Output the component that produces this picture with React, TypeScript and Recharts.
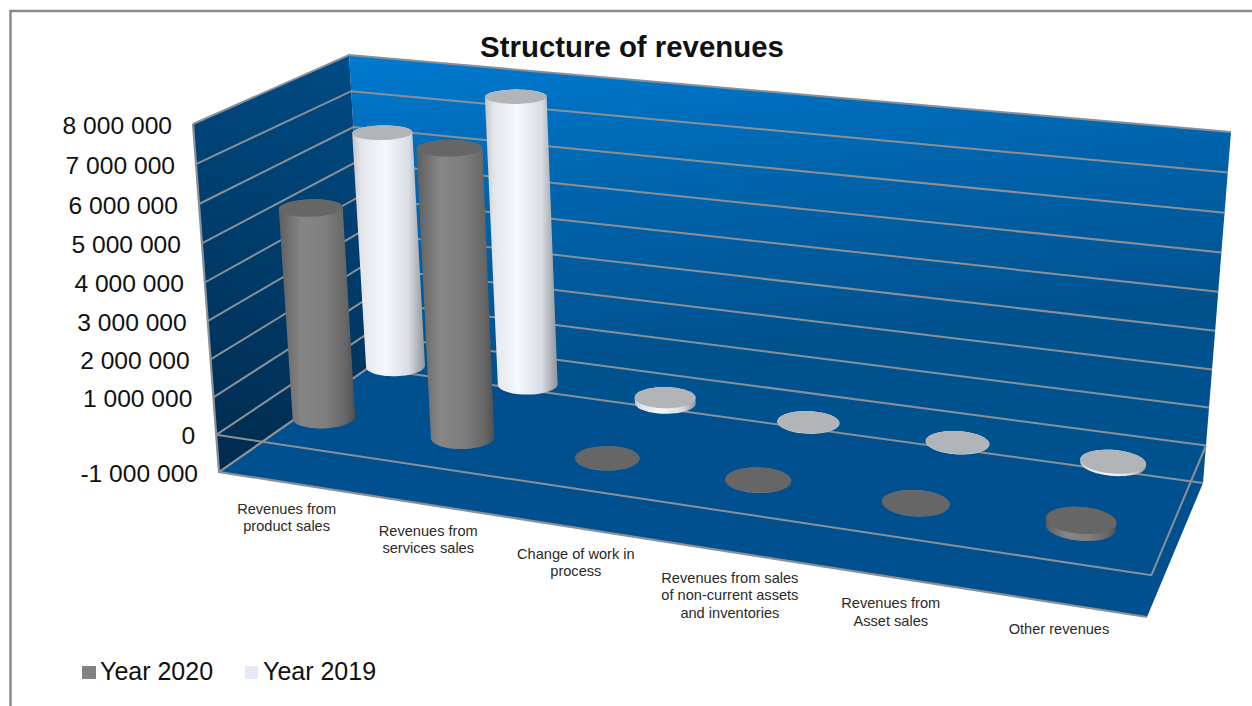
import React from "react";
import { ComposedChart, Bar, XAxis, YAxis } from "recharts";

const categories = [
  "Revenues from\nproduct sales",
  "Revenues from\nservices sales",
  "Change of work in\nprocess",
  "Revenues from sales\nof non-current assets\nand inventories",
  "Revenues from\nAsset sales",
  "Other revenues",
];
const year2020 = [5550000, 7450000, 10000, 15000, 10000, 170000];
const year2019 = [6500000, 7800000, 150000, 10000, 10000, 60000];
const valueTicks = [-1000000, 0, 1000000, 2000000, 3000000, 4000000, 5000000, 6000000, 7000000, 8000000];
const seriesNames = ["Year 2020", "Year 2019"];
const title = "Structure of revenues";

const data = categories.map((name, i) => ({ name, y2020: year2020[i], y2019: year2019[i] }));

const W = 1252, H = 706;
const PL = 219, PR = 1147, PT = 125, PB = 472;
const FONT = "'Liberation Sans', Arial, sans-serif";
const MIN = -1000000, MAX = 8000000;

type P = [number, number];
function homography(p0: P, p1: P, p2: P, p3: P) {
  const dx1 = p1[0] - p2[0], dx2 = p3[0] - p2[0], sx = p0[0] - p1[0] + p2[0] - p3[0];
  const dy1 = p1[1] - p2[1], dy2 = p3[1] - p2[1], sy = p0[1] - p1[1] + p2[1] - p3[1];
  const den = dx1 * dy2 - dx2 * dy1;
  const g = (sx * dy2 - dx2 * sy) / den;
  const h = (dx1 * sy - sx * dy1) / den;
  const a = p1[0] - p0[0] + g * p1[0], b = p3[0] - p0[0] + h * p3[0], c = p0[0];
  const d = p1[1] - p0[1] + g * p1[1], e = p3[1] - p0[1] + h * p3[1], f = p0[1];
  return (s: number, t: number): P => {
    const w = g * s + h * t + 1;
    return [(a * s + b * t + c) / w, (d * s + e * t + f) / w];
  };
}
// Box corners: front-left, front-right, back-right, back-left
const floorPlane = homography([219, 472], [1147, 617], [1203, 483], [368, 368]);
const topPlane = homography([193, 124], [1188, 226], [1231, 132], [349, 55]);
const K = 0.957;
const warp = (t: number) => (t * K) / (1 + t * (K - 1));
function project(s: number, d: number, t: number): P {
  const a = floorPlane(s, d), b = topPlane(s, d), w = warp(t);
  return [a[0] + (b[0] - a[0]) * w, a[1] + (b[1] - a[1]) * w];
}
const poly = (pts: P[]) => pts.map((p) => `${p[0].toFixed(1)},${p[1].toFixed(1)}`).join(" ");
const tOf = (v: number) => (v - MIN) / (MAX - MIN);
const tOfPx = (y: number) => (PB - y) / (PB - PT);

function hull(points: P[]): P[] {
  const pts = [...points].sort((a, b) => a[0] - b[0] || a[1] - b[1]);
  const cross = (o: P, a: P, b: P) => (a[0] - o[0]) * (b[1] - o[1]) - (a[1] - o[1]) * (b[0] - o[0]);
  const lo: P[] = [], up: P[] = [];
  for (const p of pts) {
    while (lo.length > 1 && cross(lo[lo.length - 2], lo[lo.length - 1], p) <= 0) lo.pop();
    lo.push(p);
  }
  for (const p of [...pts].reverse()) {
    while (up.length > 1 && cross(up[up.length - 2], up[up.length - 1], p) <= 0) up.pop();
    up.push(p);
  }
  return lo.slice(0, -1).concat(up.slice(0, -1));
}

const RU = 0.034, RD = 0.095;
function Cylinder(props: any) {
  const { x, y, width, height, depth, gradient, cap } = props;
  const s = (x + width / 2 - PL) / (PR - PL);
  const tTop = tOfPx(y), tBase = tOfPx(y + height);
  const ring = (t: number): P[] => {
    const out: P[] = [];
    for (let i = 0; i < 56; i++) {
      const a = (i / 56) * Math.PI * 2;
      out.push(project(s + RU * Math.cos(a), depth + RD * Math.sin(a), t));
    }
    return out;
  };
  const top = ring(tTop), base = ring(tBase);
  return (
    <g>
      <polygon points={poly(hull([...top, ...base]))} fill={`url(#${gradient})`} />
      <polygon points={poly(top)} fill={cap} />
    </g>
  );
}

function ValueTick(props: any) {
  const { y, payload } = props;
  const p = project(0, 0, tOfPx(y));
  const v = payload.value as number;
  const label = v === 0 ? "0" : v.toString().replace(/\B(?=(\d{3})+(?!\d))/g, " ");
  return (
    <text x={p[0] - 21} y={p[1] + 9.5} textAnchor="end" fontFamily={FONT} fontSize={24.6} fill="#111">
      {label}
    </text>
  );
}

function CategoryTick(props: any) {
  const { x, payload } = props;
  const p = project((x - PL) / (PR - PL), 0, 0);
  const lines = String(payload.value).split("\n");
  return (
    <text textAnchor="middle" fontFamily={FONT} fontSize={14.6} fill="#2a2a2a">
      {lines.map((l, i) => (
        <tspan key={i} x={p[0] - 1} y={p[1] + 31 + i * 17.5}>
          {l}
        </tspan>
      ))}
    </text>
  );
}

function Box() {
  const FL0 = project(0, 0, 0), FR0 = project(1, 0, 0), BR0 = project(1, 1, 0), BL0 = project(0, 1, 0);
  const FL1 = project(0, 0, 1), BR1 = project(1, 1, 1), BL1 = project(0, 1, 1);
  const zero = tOf(0);
  const grid = "#8a9097";
  return (
    <g>
      <defs>
        <linearGradient id="backWall" gradientUnits="userSpaceOnUse" x1="349" y1="55" x2="379" y2="375">
          <stop offset="0" stopColor="#007ad0" />
          <stop offset="0.5" stopColor="#0064ac" />
          <stop offset="1" stopColor="#00528f" />
        </linearGradient>
        <linearGradient id="leftWall" gradientUnits="userSpaceOnUse" x1="349" y1="55" x2="219" y2="472">
          <stop offset="0" stopColor="#004c85" />
          <stop offset="1" stopColor="#002b4e" />
        </linearGradient>
        <linearGradient id="bar2020" x1="0" y1="0" x2="1" y2="0">
          <stop offset="0" stopColor="#5e5e5e" />
          <stop offset="0.3" stopColor="#868686" />
          <stop offset="0.6" stopColor="#7e7e7e" />
          <stop offset="0.88" stopColor="#666666" />
          <stop offset="1" stopColor="#4e4e4e" />
        </linearGradient>
        <linearGradient id="bar2019" x1="0" y1="0" x2="1" y2="0">
          <stop offset="0" stopColor="#c4c5c8" />
          <stop offset="0.12" stopColor="#e4e5e9" />
          <stop offset="0.45" stopColor="#f5f8ff" />
          <stop offset="0.78" stopColor="#d8dce3" />
          <stop offset="1" stopColor="#909397" />
        </linearGradient>
      </defs>
      <polyline points={poly([[10.5, 706], [10.5, 11], [1252, 11]])} fill="none" stroke="#8a8a8a" strokeWidth={2.5} />
      <text x={632} y={57} textAnchor="middle" fontFamily={FONT} fontWeight="bold" fontSize={29.4} fill="#111">
        {title}
      </text>
      <polygon points={poly([BL0, BR0, BR1, BL1])} fill="url(#backWall)" />
      <polygon points={poly([FL0, BL0, BL1, FL1])} fill="url(#leftWall)" />
      <polygon points={poly([FL0, FR0, BR0, BL0])} fill="#00508f" />
      {valueTicks.map((v) => {
        const t = tOf(v);
        return (
          <polyline
            key={v}
            points={poly([project(0, 0, t), project(0, 1, t), project(1, 1, t)])}
            fill="none"
            stroke={grid}
            strokeWidth={2}
          />
        );
      })}
      <polyline points={poly([project(0, 0, zero), project(1, 0, zero), project(1, 1, zero)])} fill="none" stroke={grid} strokeWidth={2} />
      <polyline points={poly([FL1, FL0, FR0])} fill="none" stroke={grid} strokeWidth={2.2} />
      <polyline points={poly([FL0, BL0])} fill="none" stroke={grid} strokeWidth={2} />
      <rect x={82} y={666} width={14} height={13} fill="#828282" />
      <text x={100} y={680} fontFamily={FONT} fontSize={25} fill="#111">{seriesNames[0]}</text>
      <rect x={245} y={666} width={13} height={13} fill="#e6ebf3" />
      <text x={263} y={680} fontFamily={FONT} fontSize={25} fill="#111">{seriesNames[1]}</text>
    </g>
  );
}

export default function App() {
  return (
    <div style={{ position: "fixed", left: 0, top: 0, width: W, height: H, background: "#fff", overflow: "hidden" }}>
      <ComposedChart
        width={W}
        height={H}
        data={data}
        barSize={10}
        barGap={-10}
        margin={{ top: PT, right: W - PR, bottom: H - PB - 30, left: 0 }}
      >
        <Box />
        <XAxis dataKey="name" height={30} interval={0} axisLine={false} tickLine={false} tick={<CategoryTick />} />
        <YAxis
          width={PL}
          domain={[MIN, MAX]}
          ticks={valueTicks}
          interval={0}
          axisLine={false}
          tickLine={false}
          tick={<ValueTick />}
        />
        <Bar dataKey="y2019" name={seriesNames[1]} isAnimationActive={false} shape={(p: any) => <Cylinder {...p} depth={0.75} gradient="bar2019" cap="#b1b5b8" />} />
        <Bar dataKey="y2020" name={seriesNames[0]} isAnimationActive={false} shape={(p: any) => <Cylinder {...p} depth={0.25} gradient="bar2020" cap="#666666" />} />
      </ComposedChart>
    </div>
  );
}
